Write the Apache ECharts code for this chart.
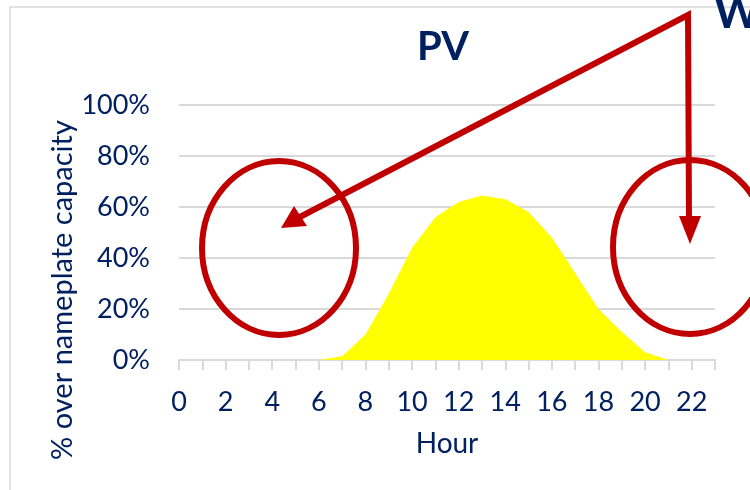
<!DOCTYPE html>
<html>
<head>
<meta charset="utf-8">
<script src="https://cdn.jsdelivr.net/npm/echarts@6/dist/echarts.min.js"></script>
<style>
  html, body { margin: 0; padding: 0; background: #fff; }
  #main { width: 750px; height: 490px; }
</style>
</head>
<body>
<div id="main"></div>
<script>
// hours of the day
var hours = ['0','1','2','3','4','5','6','7','8','9','10','11','12','13','14','15','16','17','18','19','20','21','22','23'];
// PV output as share of nameplate capacity (no output drawn outside 6h-21h)
var pvShare = [null, null, null, null, null, null, 0, 0.015, 0.10, 0.26, 0.44, 0.56, 0.62, 0.645, 0.63, 0.58, 0.48, 0.34, 0.20, 0.11, 0.03, 0, null, null];
var yTicks = [0, 0.2, 0.4, 0.6, 0.8, 1];

var navy = '#002060';
var red = '#C00000';
var font = 'Lato';

var myChart = echarts.init(document.getElementById('main'));

var option = {
    backgroundColor: '#fff',
    textStyle: { fontFamily: font },
    title: {
        text: 'PV',
        left: 438,
        top: 22,
        textAlign: 'center',
        textStyle: { color: navy, fontSize: 40, fontWeight: 'bold', fontFamily: font }
    },
    grid: { left: 179, right: 35, top: 105, bottom: 130 },
    xAxis: {
        type: 'category',
        data: hours,
        boundaryGap: false,
        name: 'Hour',
        nameLocation: 'middle',
        nameGap: 70,
        nameTextStyle: { color: navy, fontSize: 28, fontFamily: font },
        axisLine: { lineStyle: { color: '#d9d9d9', width: 2 } },
        axisTick: { show: true, interval: 0, length: 10, lineStyle: { color: '#d9d9d9', width: 2 } },
        axisLabel: { interval: 1, color: navy, fontSize: 27, margin: 29, fontFamily: font },
        splitLine: { show: false }
    },
    yAxis: {
        type: 'value',
        min: yTicks[0],
        max: yTicks[yTicks.length - 1],
        interval: 0.2,
        axisLine: { show: false },
        axisTick: { show: false },
        axisLabel: {
            color: navy, fontSize: 27, margin: 29, fontFamily: font,
            formatter: function (v) { return Math.round(v * 100) + '%'; }
        },
        splitLine: { lineStyle: { color: '#d9d9d9', width: 2 } }
    },
    series: [{
        type: 'line',
        data: pvShare,
        symbol: 'none',
        lineStyle: { color: '#FFFF00', width: 0 },
        areaStyle: { color: '#FFFF00', opacity: 1 },
        z: 3
    }],
    graphic: [
        // outer frame
        { type: 'rect', shape: { x: 10, y: 7, width: 760, height: 500 }, style: { fill: 'none', stroke: '#d9d9d9', lineWidth: 1.5 }, z: 0 },
        // y axis title
        { type: 'text', x: 63, y: 290, rotation: Math.PI / 2, style: { text: '% over nameplate capacity', fill: navy, font: '29px Lato', textAlign: 'center', textVerticalAlign: 'middle' }, z: 5 },
        // cut-off heading on the right
        { type: 'text', left: 714, top: -8, style: { text: 'W', fill: navy, font: 'bold 44px Lato' }, z: 20 },
        // circles
        { type: 'ellipse', shape: { cx: 279, cy: 248, rx: 77, ry: 87 }, style: { fill: 'none', stroke: red, lineWidth: 6 }, z: 10 },
        { type: 'ellipse', shape: { cx: 690, cy: 247, rx: 77, ry: 87 }, style: { fill: 'none', stroke: red, lineWidth: 6 }, z: 10 },
        // arrows
        { type: 'polyline', shape: { points: [[296, 219], [688, 15], [689, 220]] }, style: { fill: 'none', stroke: red, lineWidth: 6, lineJoin: 'miter' }, z: 10 },
        { type: 'polygon', shape: { points: [[281, 228], [294, 206], [307, 226]] }, style: { fill: red }, z: 10 },
        { type: 'polygon', shape: { points: [[679, 216], [701, 216], [690, 244]] }, style: { fill: red }, z: 10 }
    ]
};

myChart.setOption(option);
</script>
</body>
</html>
